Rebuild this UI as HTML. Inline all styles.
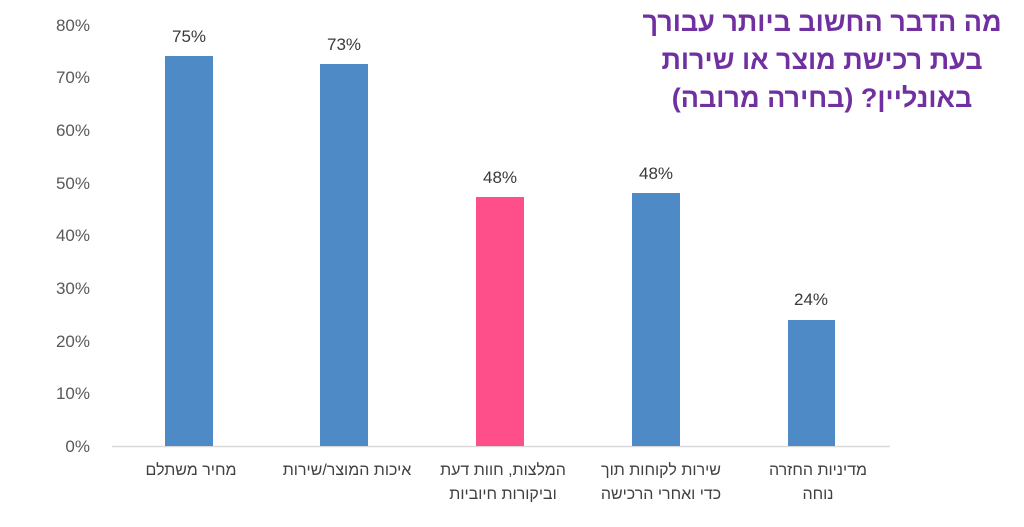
<!DOCTYPE html>
<html><head><meta charset="utf-8"><style>
body{margin:0;background:#fff;width:1024px;height:522px;overflow:hidden}
text{font-family:"Liberation Sans","Noto Sans CJK SC",sans-serif}
</style></head><body>
<svg width="1024" height="522" xmlns="http://www.w3.org/2000/svg">
<g font-size="17" fill="#595959" text-anchor="end">
<text x="90" y="452">0%</text>
<text x="90" y="399">10%</text>
<text x="90" y="347">20%</text>
<text x="90" y="294">30%</text>
<text x="90" y="241">40%</text>
<text x="90" y="189">50%</text>
<text x="90" y="136">60%</text>
<text x="90" y="83">70%</text>
<text x="90" y="31">80%</text>
</g>
<line x1="112" y1="446.5" x2="890" y2="446.5" stroke="#d9d9d9" stroke-width="1.5"/>
<rect x="165" y="56" width="48" height="390" fill="#4e8ac6"/>
<rect x="320" y="64" width="48" height="382" fill="#4e8ac6"/>
<rect x="476" y="197" width="48" height="249" fill="#ff4f8b"/>
<rect x="632" y="193" width="48" height="253" fill="#4e8ac6"/>
<rect x="788" y="320" width="47" height="126" fill="#4e8ac6"/>
<g font-size="17" fill="#3a3a3a" text-anchor="middle">
<text x="189" y="42">75%</text>
<text x="344" y="50">73%</text>
<text x="500" y="183">48%</text>
<text x="656" y="179">48%</text>
<text x="811" y="305">24%</text>
</g>
<g font-size="16" fill="#404040" text-anchor="middle" direction="rtl">
<text x="191" y="475">מחיר משתלם</text>
<text x="347" y="475">איכות המוצר/שירות</text>
<text x="503" y="475">המלצות, חוות דעת</text>
<text x="503" y="499">וביקורות חיוביות</text>
<text x="661" y="475">שירות לקוחות תוך</text>
<text x="661" y="499">כדי ואחרי הרכישה</text>
<text x="818" y="475">מדיניות החזרה</text>
<text x="818" y="499">נוחה</text>
</g>
<g font-size="27" font-weight="bold" fill="#7030a0" text-anchor="middle" direction="rtl">
<text x="822" y="31">מה הדבר החשוב ביותר עבורך</text>
<text x="822" y="69">בעת רכישת מוצר או שירות</text>
<text x="822" y="107">באונליין? (בחירה מרובה)</text>
</g>
</svg>
</body></html>
